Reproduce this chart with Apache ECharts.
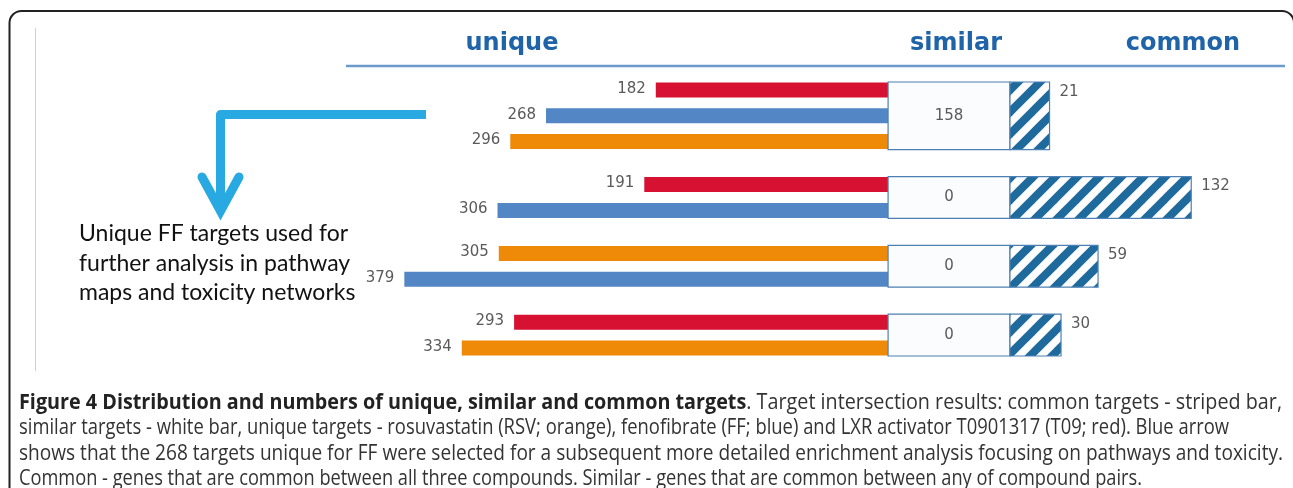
<!DOCTYPE html>
<html><head><meta charset="utf-8">
<script src="https://cdn.jsdelivr.net/npm/echarts@6/dist/echarts.min.js"></script>
<style>html,body{margin:0;padding:0;background:#fff}#c{width:1293px;height:488px}</style>
</head><body><div id="c"></div>
<script>
// ---------- data ----------
const sectionLabels = ['unique', 'similar', 'common'];
const compoundNames = ['RSV', 'FF', 'T09'];
// compounds shown in each group, top to bottom
const groupCompounds = [['T09', 'FF', 'RSV'], ['T09', 'FF'], ['RSV', 'FF'], ['T09', 'RSV']];
const uniqueValues = [[182, 268, 296], [191, 306], [305, 379], [293, 334]];
const similarValues = [158, 0, 0, 0];
const commonValues = [21, 132, 59, 30];
const annotationLines = ['Unique FF targets used for', 'further analysis in pathway', 'maps and toxicity networks'];
const captionTitle = 'Figure 4 Distribution and numbers of unique, similar and common targets';
const captionLines = [
  '. Target intersection results: common targets - striped bar,',
  'similar targets - white bar, unique targets - rosuvastatin (RSV; orange), fenofibrate (FF; blue) and LXR activator T0901317 (T09; red). Blue arrow',
  'shows that the 268 targets unique for FF were selected for a subsequent more detailed enrichment analysis focusing on pathways and toxicity.',
  'Common - genes that are common between all three compounds. Similar - genes that are common between any of compound pairs.'
];

// ---------- styles / layout ----------
const compoundColors = { RSV: '#ee8a08', FF: '#5286c5', T09: '#d61131' };
const BAR_H = 15;
const SIM_W = 95.5;      // fixed width of the "similar" box, axis units
const COMMON_PAD = 10;   // visual offset of the striped bar, axis units
const boxStroke = '#4d80b3';
const labelColor = '#5a5a5a';
const numFont = '15px "DejaVu Sans", Verdana, sans-serif';
const headerFont = 'bold 24px "DejaVu Sans", Verdana, sans-serif';
const capBold = 'bold 21px "Open Sans", sans-serif';
const capNorm = '21px "Open Sans", sans-serif';
const captionLineWidths = [1263, 1210, 1264, 1123];

// ---------- build series data (row slots: 3 per row, +2 between groups) ----------
const uniqueData = [], similarData = [], commonData = [];
let row = 0;
groupCompounds.forEach((g, gi) => {
  const start = row * 3 + gi * 2;
  g.forEach((c, ri) => {
    uniqueData.push([uniqueValues[gi][ri], row * 3 + gi * 2, compoundNames.indexOf(c)]);
    row++;
  });
  const end = (row - 1) * 3 + gi * 2;
  similarData.push([similarValues[gi], start, end]);
  commonData.push([commonValues[gi], start, end]);
});

// stripe pattern
const T = 22;
const tile = document.createElement('canvas');
tile.width = T; tile.height = T;
(function () {
  const ctx = tile.getContext('2d');
  ctx.fillStyle = '#ffffff'; ctx.fillRect(0, 0, T, T);
  ctx.strokeStyle = '#1f6a9d'; ctx.lineWidth = 8;
  for (const k of [-1, 0, 1]) {
    ctx.beginPath(); ctx.moveTo(k * T - T, 2 * T); ctx.lineTo(k * T + 2 * T, -T); ctx.stroke();
  }
})();

// caption fitting
const mctx = document.createElement('canvas').getContext('2d');
function tw(font, text) { mctx.font = font; return mctx.measureText(text).width; }
const capScales = [
  captionLineWidths[0] / (tw(capBold, captionTitle) + tw(capNorm, captionLines[0])),
  ...captionLines.slice(1).map((t, i) => captionLineWidths[i + 1] / tw(capNorm, t))
];

const chart = echarts.init(document.getElementById('c'), null, { renderer: 'canvas' });

const option = {
  backgroundColor: '#ffffff',
  animation: false,
  grid: { left: 352, right: 22, top: 85.7, bottom: 135.7 },
  xAxis: { type: 'value', min: -420, max: 300, show: false },
  yAxis: { type: 'value', min: -0.5, max: 30.5, inverse: true, show: false },
  series: [
    {
      type: 'custom', name: 'unique', data: uniqueData,
      renderItem(params, api) {
        const v = api.value(0), pos = api.value(1), ci = api.value(2);
        const p0 = api.coord([0, pos]), p1 = api.coord([-v, pos]);
        return {
          type: 'group', children: [
            { type: 'rect', shape: { x: p1[0], y: p0[1] - BAR_H / 2, width: p0[0] - p1[0], height: BAR_H },
              style: { fill: compoundColors[compoundNames[ci]] } },
            { type: 'text', x: p1[0] - 10, y: p0[1] - 1,
              style: { text: String(v), align: 'right', verticalAlign: 'middle', fill: labelColor, font: numFont } }
          ]
        };
      }
    },
    {
      type: 'custom', name: 'similar', data: similarData,
      renderItem(params, api) {
        const v = api.value(0);
        const a = api.coord([0, api.value(1)]), b = api.coord([SIM_W, api.value(2)]);
        const y0 = a[1] - BAR_H / 2 - 0.5, y1 = b[1] + BAR_H / 2 + 0.5;
        return {
          type: 'group', children: [
            { type: 'rect', shape: { x: a[0], y: y0, width: b[0] - a[0], height: y1 - y0 },
              style: { fill: '#fbfcfe', stroke: boxStroke, lineWidth: 1.2 } },
            { type: 'text', x: (a[0] + b[0]) / 2, y: (y0 + y1) / 2,
              style: { text: String(v), align: 'center', verticalAlign: 'middle', fill: labelColor, font: numFont } }
          ]
        };
      }
    },
    {
      type: 'custom', name: 'common', data: commonData,
      renderItem(params, api) {
        const v = api.value(0);
        const a = api.coord([SIM_W, api.value(1)]), b = api.coord([SIM_W + COMMON_PAD + v, api.value(2)]);
        const y0 = a[1] - BAR_H / 2 - 0.5, y1 = b[1] + BAR_H / 2 + 0.5;
        return {
          type: 'group', children: [
            { type: 'rect', shape: { x: a[0], y: y0, width: b[0] - a[0], height: y1 - y0 },
              style: { fill: { image: tile, repeat: 'repeat' }, stroke: boxStroke, lineWidth: 1.2 } },
            { type: 'text', x: b[0] + 10, y: y0 + 10,
              style: { text: String(v), align: 'left', verticalAlign: 'middle', fill: labelColor, font: numFont } }
          ]
        };
      }
    }
  ],
  graphic: [
    // frame
    { type: 'rect', shape: { x: 9.5, y: 11, width: 1284.5, height: 600, r: 12 },
      style: { fill: null, stroke: '#222', lineWidth: 2 }, silent: true },
    { type: 'line', shape: { x1: 35.5, y1: 28, x2: 35.5, y2: 371 }, style: { stroke: '#cfcfcf', lineWidth: 1 } },
    // header
    { type: 'text', x: 512, y: 44, style: { text: sectionLabels[0], align: 'center', verticalAlign: 'middle', fill: '#1f63a8', font: headerFont } },
    { type: 'text', x: 956, y: 44, style: { text: sectionLabels[1], align: 'center', verticalAlign: 'middle', fill: '#1f63a8', font: headerFont } },
    { type: 'text', x: 1183, y: 44, style: { text: sectionLabels[2], align: 'center', verticalAlign: 'middle', fill: '#1f63a8', font: headerFont } },
    { type: 'line', shape: { x1: 346, y1: 66, x2: 1285, y2: 66 }, style: { stroke: '#6b9acb', lineWidth: 2.5 } },
    // arrow
    { type: 'polyline', shape: { points: [[426, 114.5], [220.5, 114.5], [220.5, 205]] },
      style: { stroke: '#29a9e1', lineWidth: 9, lineJoin: 'round', fill: null } },
    { type: 'polyline', shape: { points: [[202, 177], [220.5, 211], [239, 177]] },
      style: { stroke: '#29a9e1', lineWidth: 9, lineJoin: 'miter', lineCap: 'round', fill: null } },
    // annotation
    ...annotationLines.map((t, i) => ({ type: 'text', x: 79, y: 234 + i * 29.5,
      style: { text: t, align: 'left', verticalAlign: 'middle', fill: '#111', font: '23px Lato, "Open Sans", sans-serif' } })),
    // caption
    { type: 'text', x: 19, y: 403, scaleX: capScales[0],
      style: { text: '{b|' + captionTitle + '}{n|' + captionLines[0] + '}', verticalAlign: 'middle',
        rich: { b: { font: capBold, fill: '#222' }, n: { font: capNorm, fill: '#333' } } } },
    ...captionLines.slice(1).map((t, i) => ({ type: 'text', x: 19, y: 428.5 + i * 25.5, scaleX: capScales[i + 1],
      style: { text: t, verticalAlign: 'middle', fill: '#333', font: capNorm } }))
  ]
};
chart.setOption(option);
</script></body></html>
